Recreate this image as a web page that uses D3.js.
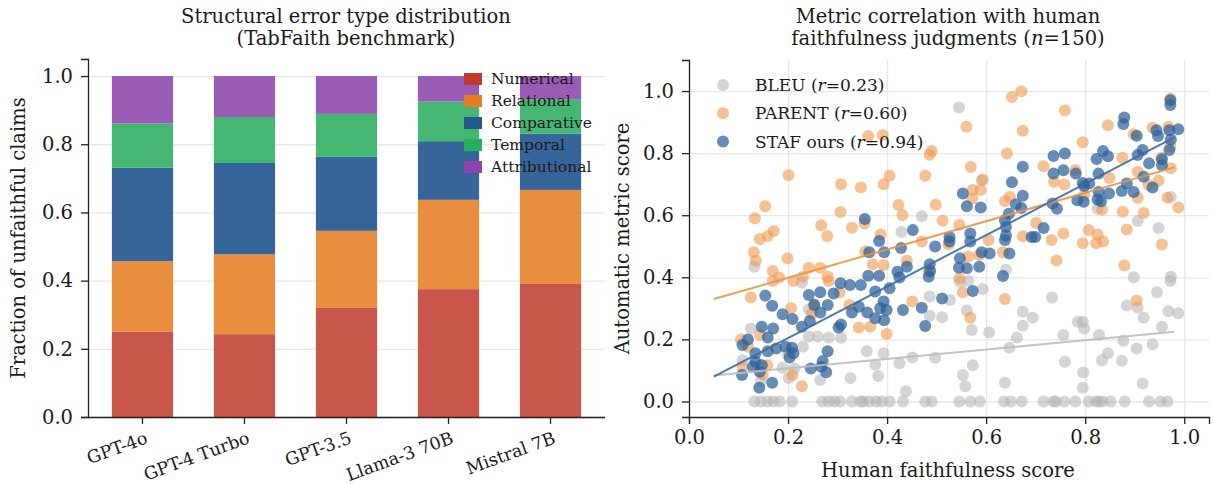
<!DOCTYPE html>
<html>
<head>
<meta charset="utf-8">
<script src="https://cdn.jsdelivr.net/npm/d3@7"></script>
<style>
  body { margin: 0; background: #fff; }
  svg text { font-family: "DejaVu Serif", serif; fill: #1a1a1a; }
  .axis path, .axis line { stroke: #222; stroke-width: 1.3; }
  .grid line { stroke: #e8e8e8; stroke-width: 1.3; }
  .grid path { display: none; }
</style>
</head>
<body>
<div id="chart"></div>
<script>
// left panel data
var models = ["GPT-4o", "GPT-4 Turbo", "GPT-3.5", "Llama-3 70B", "Mistral 7B"];
var errorTypes = ["Numerical", "Relational", "Comparative", "Temporal", "Attributional"];
var numerical     = [0.251, 0.243, 0.320, 0.375, 0.392];
var relational    = [0.206, 0.234, 0.226, 0.262, 0.274];
var comparative   = [0.274, 0.268, 0.217, 0.172, 0.165];
var temporal      = [0.130, 0.135, 0.126, 0.116, 0.101];
var attributional = [0.139, 0.120, 0.111, 0.075, 0.068];
var yTicksLeft = [0, 0.2, 0.4, 0.6, 0.8, 1.0];

// right panel data: [human score, metric score]
var bleuPts = [
  [0.132,0],[0.145,0],[0.159,0],[0.170,0],[0.183,0],[0.208,0],[0.269,0],[0.282,0],[0.294,0],[0.305,0],
  [0.329,0],[0.346,0],[0.352,0],[0.364,0],[0.378,0],[0.389,0],[0.405,0],[0.432,0],[0.477,0],[0.490,0],
  [0.546,0],[0.568,0],[0.587,0],[0.636,0],[0.650,0],[0.672,0],[0.716,0],[0.736,0],[0.741,0],[0.758,0],
  [0.780,0],[0.807,0],[0.822,0],[0.828,0],[0.835,0],[0.851,0],[0.880,0],[0.929,0],[0.952,0],[0.966,0],
  [0.132,0.434],[0.228,0.383],[0.125,0.235],[0.242,0.297],[0.242,0.209],[0.260,0.209],[0.282,0.206],
  [0.230,0.176],[0.199,0.155],[0.189,0.109],[0.213,0.106],[0.201,0.076],[0.265,0.069],[0.326,0.076],
  [0.108,0.133],[0.145,0.066],[0.307,0.205],
  [0.547,0.386],[0.564,0.388],[0.593,0.362],[0.640,0.424],[0.527,0.327],[0.486,0.338],[0.486,0.276],
  [0.511,0.271],[0.561,0.293],[0.571,0.230],[0.606,0.222],[0.674,0.289],[0.674,0.244],[0.662,0.206],
  [0.647,0.173],[0.694,0.270],[0.359,0.162],[0.393,0.155],[0.376,0.119],[0.425,0.123],[0.451,0.142],
  [0.497,0.141],[0.382,0.082],[0.438,0.033],[0.553,0.085],[0.573,0.117],[0.558,0.049],[0.638,0.060],
  [0.898,0.400],[0.973,0.402],[0.972,0.388],[0.945,0.352],[0.733,0.335],[0.884,0.309],[0.906,0.303],
  [0.918,0.270],[0.968,0.291],[0.988,0.284],[0.785,0.257],[0.795,0.257],[0.798,0.235],[0.756,0.214],
  [0.828,0.214],[0.877,0.196],[0.955,0.241],[0.936,0.184],[0.904,0.171],[0.846,0.155],[0.834,0.133],
  [0.874,0.131],[0.759,0.128],[0.796,0.093],[0.795,0.044],[0.916,0.058],
  [0.545,0.947],[0.591,0.711],[0.470,0.597],[0.429,0.546],[0.973,0.659],[0.906,0.581],[0.948,0.559],
  [0.825,0.621]
];
var parentPts = [
  [0.201,0.729],[0.307,0.700],[0.347,0.689],[0.154,0.629],[0.133,0.590],[0.306,0.610],[0.267,0.568],
  [0.171,0.549],[0.159,0.533],[0.143,0.523],[0.279,0.533],[0.329,0.560],[0.362,0.855],[0.391,0.858],
  [0.652,0.981],[0.671,0.999],[0.560,0.885],[0.674,0.872],[0.490,0.807],[0.486,0.795],[0.642,0.799],
  [0.569,0.755],[0.405,0.727],[0.477,0.727],[0.393,0.700],[0.593,0.715],[0.573,0.681],[0.589,0.681],
  [0.572,0.654],[0.648,0.659],[0.638,0.646],[0.423,0.633],[0.498,0.634],[0.431,0.601],[0.354,0.573],
  [0.512,0.582],[0.546,0.569],[0.387,0.538],[0.674,0.532],
  [0.972,0.976],[0.759,0.937],[0.846,0.890],[0.795,0.835],[0.898,0.861],[0.936,0.882],[0.968,0.885],
  [0.875,0.785],[0.716,0.758],[0.954,0.785],[0.972,0.821],[0.973,0.751],[0.780,0.745],[0.737,0.708],
  [0.758,0.699],[0.849,0.720],[0.906,0.740],[0.948,0.711],[0.928,0.697],[0.966,0.656],[0.988,0.625],
  [0.798,0.665],[0.834,0.618],[0.876,0.611],[0.906,0.656],[0.918,0.607],[0.756,0.541],[0.807,0.552],
  [0.884,0.554],[0.825,0.538],[0.701,0.575],
  [0.131,0.481],[0.135,0.453],[0.199,0.461],[0.169,0.420],[0.169,0.388],[0.182,0.399],[0.211,0.388],
  [0.230,0.402],[0.242,0.431],[0.265,0.431],[0.280,0.402],[0.282,0.388],[0.304,0.351],[0.125,0.335],
  [0.206,0.300],[0.248,0.284],[0.253,0.313],[0.324,0.311],[0.343,0.238],[0.143,0.214],[0.105,0.200],
  [0.119,0.176],[0.158,0.117],[0.108,0.112],[0.149,0.087],[0.209,0.085],[0.228,0.049],
  [0.371,0.442],[0.393,0.440],[0.356,0.483],[0.440,0.453],[0.470,0.515],[0.484,0.418],[0.524,0.506],
  [0.564,0.467],[0.586,0.472],[0.605,0.520],[0.634,0.481],[0.546,0.397],[0.553,0.352],[0.568,0.270],
  [0.451,0.322],[0.638,0.330],[0.366,0.241],[0.399,0.217],
  [0.732,0.520],[0.795,0.510],[0.822,0.510],[0.836,0.515],[0.955,0.506],[0.742,0.454],[0.879,0.438],
  [0.904,0.325]
];
var stafPts = [
  [0.355,0.588],[0.674,0.756],[0.652,0.706],[0.553,0.670],[0.674,0.663],[0.561,0.629],[0.589,0.625],
  [0.660,0.635],[0.646,0.605],[0.671,0.623],[0.638,0.584],[0.640,0.562],[0.452,0.552],[0.640,0.535],
  [0.526,0.530],[0.568,0.541],[0.692,0.530],
  [0.972,0.970],[0.972,0.955],[0.879,0.915],[0.877,0.894],[0.904,0.856],[0.944,0.874],[0.947,0.855],
  [0.970,0.874],[0.988,0.877],[0.973,0.844],[0.970,0.810],[0.736,0.791],[0.759,0.799],[0.836,0.807],
  [0.823,0.781],[0.846,0.790],[0.916,0.810],[0.906,0.794],[0.955,0.780],[0.955,0.761],[0.929,0.767],
  [0.736,0.734],[0.756,0.745],[0.781,0.734],[0.827,0.734],[0.918,0.724],[0.795,0.704],[0.798,0.694],
  [0.808,0.702],[0.884,0.702],[0.936,0.689],[0.874,0.678],[0.898,0.675],[0.827,0.675],[0.848,0.670],
  [0.784,0.648],[0.797,0.643],[0.825,0.651],[0.832,0.645],[0.734,0.638],[0.743,0.621],[0.716,0.559],
  [0.699,0.530],
  [0.306,0.381],[0.325,0.375],[0.154,0.341],[0.168,0.308],[0.189,0.281],[0.209,0.266],[0.242,0.343],
  [0.265,0.352],[0.292,0.348],[0.253,0.311],[0.265,0.287],[0.280,0.311],[0.244,0.259],[0.228,0.241],
  [0.147,0.241],[0.170,0.235],[0.159,0.206],[0.119,0.200],[0.108,0.182],[0.134,0.155],[0.159,0.162],
  [0.176,0.171],[0.195,0.176],[0.208,0.173],[0.211,0.155],[0.203,0.142],[0.134,0.128],[0.147,0.117],
  [0.129,0.112],[0.107,0.085],[0.143,0.096],[0.168,0.060],[0.142,0.044],[0.246,0.106],[0.270,0.130],
  [0.267,0.112],[0.280,0.162],[0.277,0.094],[0.302,0.238],[0.307,0.248],[0.329,0.287],[0.343,0.305],
  [0.347,0.375],
  [0.384,0.517],[0.364,0.481],[0.394,0.481],[0.428,0.494],[0.497,0.499],[0.526,0.515],[0.568,0.515],
  [0.591,0.481],[0.607,0.477],[0.647,0.477],[0.638,0.520],[0.362,0.405],[0.384,0.405],[0.421,0.418],
  [0.440,0.434],[0.425,0.399],[0.486,0.442],[0.487,0.420],[0.484,0.402],[0.547,0.461],[0.545,0.431],
  [0.561,0.429],[0.586,0.434],[0.634,0.404],[0.405,0.365],[0.376,0.354],[0.360,0.287],[0.376,0.268],
  [0.393,0.322],[0.386,0.300],[0.399,0.295],[0.394,0.262],[0.432,0.295],[0.470,0.302],[0.477,0.243],
  [0.511,0.332],[0.573,0.356]
];
// fitted lines: endpoints at x = 0.05 and 0.98
var fitX = [0.05, 0.98];
var bleuFit = [0.084, 0.225];
var parentFit = [0.330, 0.754];
var stafFit = [0.080, 0.851];
var metricNames = ["BLEU", "PARENT", "STAF ours"];
var metricR = ["0.23", "0.60", "0.94"];
var xTicksRight = [0, 0.2, 0.4, 0.6, 0.8, 1.0];
var yTicksRight = [0, 0.2, 0.4, 0.6, 0.8, 1.0];

var FS = "19.5px";

var svg = d3.select("#chart").append("svg")
  .attr("width", 1214).attr("height", 484);

// ---------- left: stacked bars ----------
var barColors = ["#c9564a", "#e98d3f", "#36659a", "#46b673", "#9a5bb5"];
var legendColors = ["#c0392b", "#e67e22", "#1f5a8c", "#27ae60", "#8e44ad"];
var stackRows = models.map(function(m, i) {
  return { model: m, Numerical: numerical[i], Relational: relational[i], Comparative: comparative[i],
           Temporal: temporal[i], Attributional: attributional[i] };
});
var series = d3.stack().keys(errorTypes)(stackRows);

var L = { left: 88, right: 605, top: 59, bottom: 417 };
var xBand = d3.scaleBand().domain(models).range([L.left, L.right]).paddingInner(0.4).paddingOuter(0.234);
var yLeft = d3.scaleLinear().domain([0, 1.05]).range([L.bottom, L.top]);

svg.append("g").attr("class", "grid")
  .attr("transform", "translate(" + L.left + ",0)")
  .call(d3.axisLeft(yLeft).tickValues(yTicksLeft).tickSize(-(L.right - L.left)).tickFormat(""));

svg.append("g").selectAll("g")
  .data(series).enter().append("g")
  .attr("fill", function(d, i) { return barColors[i]; })
  .selectAll("rect")
  .data(function(d) { return d; })
  .enter().append("rect")
  .attr("x", function(d) { return xBand(d.data.model); })
  .attr("width", xBand.bandwidth())
  .attr("y", function(d) { return yLeft(d[1]); })
  .attr("height", function(d) { return yLeft(d[0]) - yLeft(d[1]); });

var yAxL = svg.append("g").attr("class", "axis")
  .attr("transform", "translate(" + L.left + ",0)")
  .call(d3.axisLeft(yLeft).tickValues(yTicksLeft).tickFormat(d3.format(".1f")).tickSizeOuter(0).tickSize(7).tickPadding(8));
yAxL.selectAll("text").style("font-size", FS);

var xAxL = svg.append("g").attr("class", "axis")
  .attr("transform", "translate(0," + L.bottom + ")")
  .call(d3.axisBottom(xBand).tickSizeOuter(0).tickSize(7));
xAxL.select(".domain").attr("d", "M" + L.left + ",0.5H" + L.right);
xAxL.selectAll("text")
  .style("font-size", "17.5px")
  .attr("text-anchor", "end")
  .attr("dy", "0.35em")
  .attr("transform", "translate(4,20) rotate(-20)")
  .attr("y", 0).attr("x", 0);

svg.append("text")
  .attr("transform", "translate(25," + ((L.top + L.bottom) / 2) + ") rotate(-90)")
  .attr("text-anchor", "middle").style("font-size", FS)
  .text("Fraction of unfaithful claims");

svg.append("text").attr("x", 346).attr("y", 23).attr("text-anchor", "middle")
  .style("font-size", FS).text("Structural error type distribution");
svg.append("text").attr("x", 346).attr("y", 45).attr("text-anchor", "middle")
  .style("font-size", FS).text("(TabFaith benchmark)");

var legL = svg.append("g").attr("transform", "translate(464,72)");
errorTypes.forEach(function(t, i) {
  var g = legL.append("g").attr("transform", "translate(0," + (i * 22) + ")");
  g.append("rect").attr("width", 18).attr("height", 12).attr("y", 1).attr("fill", legendColors[i]);
  g.append("text").attr("x", 27).attr("y", 7).attr("dy", "0.35em")
    .style("font-size", "15.5px").text(t);
});

// ---------- right: scatter ----------
var R = { left: 689, right: 1209, top: 60, bottom: 417 };
var xR = d3.scaleLinear().domain([0, 1.05]).range([R.left, R.right]);
var yR = d3.scaleLinear().domain([-0.05, 1.1]).range([R.bottom, R.top]);

svg.append("g").attr("class", "grid")
  .attr("transform", "translate(" + R.left + ",0)")
  .call(d3.axisLeft(yR).tickValues(yTicksRight).tickSize(-(R.right - R.left)).tickFormat(""));
svg.append("g").attr("class", "grid")
  .attr("transform", "translate(0," + R.bottom + ")")
  .call(d3.axisBottom(xR).tickValues(xTicksRight).tickSize(-(R.bottom - R.top)).tickFormat(""));

var dotColors = ["#b3b3b3", "#ee9a50", "#2c5f99"];
var dotOpacity = [0.55, 0.6, 0.72];
var lineColors = ["#bdbdbd", "#ec9245", "#3b6ba3"];
var allPts = [bleuPts, parentPts, stafPts];
var fits = [bleuFit, parentFit, stafFit];

allPts.forEach(function(pts, k) {
  svg.append("g").selectAll("circle")
    .data(pts).enter().append("circle")
    .attr("cx", function(d) { return xR(d[0]); })
    .attr("cy", function(d) { return yR(d[1]); })
    .attr("r", 6)
    .attr("fill", dotColors[k])
    .attr("fill-opacity", dotOpacity[k]);
});

var line = d3.line().x(function(d) { return xR(d[0]); }).y(function(d) { return yR(d[1]); });
fits.forEach(function(f, k) {
  svg.append("path")
    .datum([[fitX[0], f[0]], [fitX[1], f[1]]])
    .attr("d", line)
    .attr("fill", "none")
    .attr("stroke", lineColors[k])
    .attr("stroke-width", 2)
    .attr("stroke-opacity", 0.9);
});

var yAxR = svg.append("g").attr("class", "axis")
  .attr("transform", "translate(" + R.left + ",0)")
  .call(d3.axisLeft(yR).tickValues(yTicksRight).tickFormat(d3.format(".1f")).tickSizeOuter(0).tickSize(7).tickPadding(8));
yAxR.selectAll("text").style("font-size", FS);
var xAxR = svg.append("g").attr("class", "axis")
  .attr("transform", "translate(0," + R.bottom + ")")
  .call(d3.axisBottom(xR).tickValues(xTicksRight).tickFormat(d3.format(".1f")).tickSizeOuter(0).tickSize(7).tickPadding(6));
xAxR.selectAll("text").style("font-size", FS);

svg.append("text").attr("x", 948).attr("y", 477).attr("text-anchor", "middle")
  .style("font-size", FS).text("Human faithfulness score");
svg.append("text")
  .attr("transform", "translate(629," + ((R.top + R.bottom) / 2) + ") rotate(-90)")
  .attr("text-anchor", "middle").style("font-size", FS)
  .text("Automatic metric score");

svg.append("text").attr("x", 948).attr("y", 23).attr("text-anchor", "middle")
  .style("font-size", FS).text("Metric correlation with human");
var t2 = svg.append("text").attr("x", 948).attr("y", 45).attr("text-anchor", "middle")
  .style("font-size", FS);
t2.append("tspan").text("faithfulness judgments (");
t2.append("tspan").style("font-style", "italic").text("n");
t2.append("tspan").text("=150)");

var legR = svg.append("g").attr("transform", "translate(723,85)");
metricNames.forEach(function(m, i) {
  var g = legR.append("g").attr("transform", "translate(0," + (i * 28.3) + ")");
  g.append("circle").attr("r", 6).attr("fill", dotColors[i]).attr("fill-opacity", dotOpacity[i]);
  var t = g.append("text").attr("x", 32).attr("dy", "0.35em").style("font-size", "17px");
  t.append("tspan").text(m + " (");
  t.append("tspan").style("font-style", "italic").text("r");
  t.append("tspan").text("=" + metricR[i] + ")");
});
</script>
</body>
</html>
